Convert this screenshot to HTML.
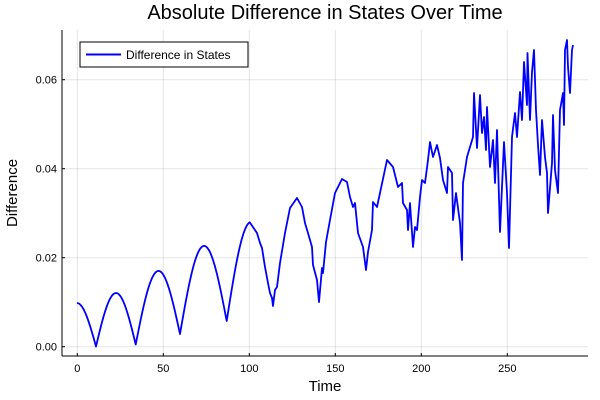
<!DOCTYPE html>
<html><head><meta charset="utf-8"><style>body{margin:0;background:#fff}svg{display:block}</style></head><body>
<svg width="600" height="400" xmlns="http://www.w3.org/2000/svg" font-family="Liberation Sans, sans-serif">
<rect width="600" height="400" fill="#fff"/>
<g stroke="#000" stroke-opacity="0.1" stroke-width="1">
<line x1="77.3" y1="30" x2="77.3" y2="356"/><line x1="163.3" y1="30" x2="163.3" y2="356"/><line x1="249.3" y1="30" x2="249.3" y2="356"/><line x1="335.3" y1="30" x2="335.3" y2="356"/><line x1="421.3" y1="30" x2="421.3" y2="356"/><line x1="507.3" y1="30" x2="507.3" y2="356"/>
<line x1="62" y1="346.7" x2="588" y2="346.7"/><line x1="62" y1="257.7" x2="588" y2="257.7"/><line x1="62" y1="168.7" x2="588" y2="168.7"/><line x1="62" y1="79.7" x2="588" y2="79.7"/>
</g>
<g stroke="#000" stroke-width="1">
<line x1="62" y1="30" x2="62" y2="356"/><line x1="62" y1="356" x2="588" y2="356"/>
<line x1="77.3" y1="356" x2="77.3" y2="353"/><line x1="163.3" y1="356" x2="163.3" y2="353"/><line x1="249.3" y1="356" x2="249.3" y2="353"/><line x1="335.3" y1="356" x2="335.3" y2="353"/><line x1="421.3" y1="356" x2="421.3" y2="353"/><line x1="507.3" y1="356" x2="507.3" y2="353"/>
<line x1="62" y1="346.7" x2="65" y2="346.7"/><line x1="62" y1="257.7" x2="65" y2="257.7"/><line x1="62" y1="168.7" x2="65" y2="168.7"/><line x1="62" y1="79.7" x2="65" y2="79.7"/>
</g>
<g font-size="11" fill="#000" text-anchor="middle">
<text x="77.3" y="372">0</text><text x="163.3" y="372">50</text><text x="249.3" y="372">100</text><text x="335.3" y="372">150</text><text x="421.3" y="372">200</text><text x="507.3" y="372">250</text>
</g>
<g font-size="11" fill="#000" text-anchor="end">
<text x="57" y="350.5">0.00</text><text x="57" y="261.5">0.02</text><text x="57" y="172.5">0.04</text><text x="57" y="83.5">0.06</text>
</g>
<text x="325" y="391" font-size="15" text-anchor="middle">Time</text>
<text transform="translate(17,193) rotate(-90)" font-size="15" text-anchor="middle">Difference</text>
<text x="325" y="19" font-size="20" text-anchor="middle">Absolute Difference in States Over Time</text>
<polyline id="ln" fill="none" stroke="#0000ff" stroke-width="1.8" stroke-linejoin="round" points=""/>
<rect x="80" y="42" width="168" height="25" fill="#fff" stroke="#000" stroke-width="1"/>
<line x1="86" y1="54.5" x2="121" y2="54.5" stroke="#0000ff" stroke-width="2"/>
<text x="126" y="59" font-size="12" fill="#000">Difference in States</text>
</svg>
<script>
var dips=[[58,346],[96,346.5],[135.7,344.5],[180,334],[226.7,321],[274,306]];
var peaks=[303,293,271,246,222];
var pts=[];
for(var i=0;i<5;i++){
 var d0=dips[i],d1=dips[i+1];
 var xm=(d0[0]+d1[0])/2, bm=(d0[1]+d1[1])/2, amp=bm-peaks[i];
 var xs=(i==0)?77:d0[0];
 var xe=(i==4)?250:d1[0];
 for(var x=xs;x<=xe+0.01;x+=1){
  var f=(x-d0[0])/(d1[0]-d0[0]);
  var b=d0[1]+(d1[1]-d0[1])*f;
  pts.push([x,b-amp*Math.sin(Math.PI*f)]);
 }
}
var man=[[257,233],[260,243],[262,248],[265,267],[268,283],[270,293],[272,298],[273,306],[275,290],[277,287],[280,263],[285,233],[290,208],[297,198],[302,207],[305,223],[308,233],[312,247],[313,265],[317,280],[319,302],[322,268],[323,273],[326,242],[330,220],[335,193],[342,179],[347,182],[350,197],[353,207],[355,203],[358,233],[363,247],[366,270],[368,252],[372,230],[373,202],[377,207],[380,193],[387,160],[393,167],[398,187],[402,183],[403,203],[407,210],[408,230],[410,203],[413,247],[415,227],[417,230],[420,197],[422,180],[425,183],[428,160],[430,142],[433,157],[437,145],[440,158],[443,180],[447,193],[448,167],[452,173],[453,220],[456,193],[460,223],[462,260],[463,183],[467,157],[470,147],[473,137],[474,93],[477,148],[480,95],[482,133],[484,117],[486,150],[487,107],[490,167],[493,140],[495,183],[497,130],[500,232],[504,142],[507,193],[509,248],[512,137],[515,113],[517,137],[520,92],[522,120],[524,62],[527,105],[527.5,53],[530,120],[532,72],[534,50],[536,110],[538,145],[540,175],[542,120],[545,157],[547,173],[548,213],[552,163],[553,115],[555,170],[558,193],[560,110],[563,93],[564,125],[565,50],[567,40],[568,67],[570,93],[572,50],[573,45]];
pts=pts.concat(man);
document.getElementById('ln').setAttribute('points',pts.map(function(p){return p[0].toFixed(1)+','+p[1].toFixed(1)}).join(' '));
</script>
</body></html>
